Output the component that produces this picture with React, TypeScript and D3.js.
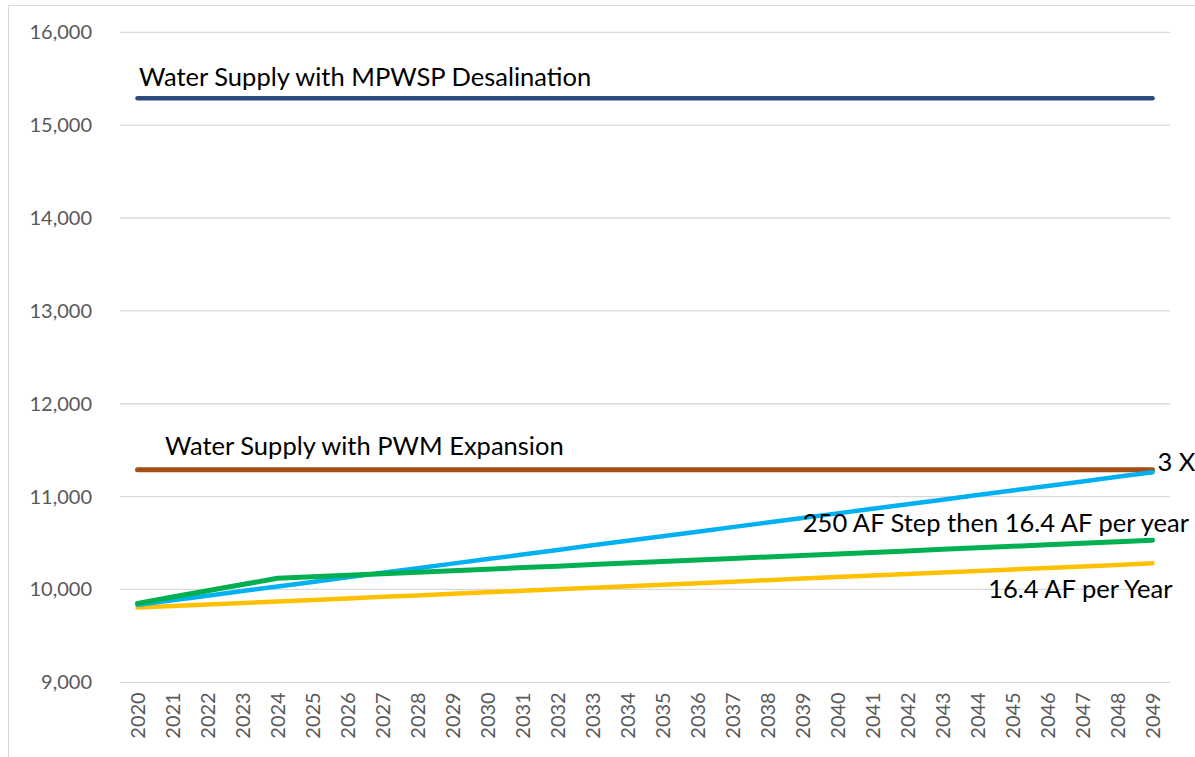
import React, { useEffect, useRef } from 'react';
import * as d3 from 'd3';

const years = [
  '2020', '2021', '2022', '2023', '2024', '2025', '2026', '2027', '2028', '2029',
  '2030', '2031', '2032', '2033', '2034', '2035', '2036', '2037', '2038', '2039',
  '2040', '2041', '2042', '2043', '2044', '2045', '2046', '2047', '2048', '2049',
];

const desalSupply = [
  15290, 15290, 15290, 15290, 15290, 15290, 15290, 15290, 15290, 15290,
  15290, 15290, 15290, 15290, 15290, 15290, 15290, 15290, 15290, 15290,
  15290, 15290, 15290, 15290, 15290, 15290, 15290, 15290, 15290, 15290,
];

const pwmSupply = [
  11290, 11290, 11290, 11290, 11290, 11290, 11290, 11290, 11290, 11290,
  11290, 11290, 11290, 11290, 11290, 11290, 11290, 11290, 11290, 11290,
  11290, 11290, 11290, 11290, 11290, 11290, 11290, 11290, 11290, 11290,
];

const threeX = [
  9835, 9884, 9933, 9983, 10032, 10081, 10130, 10179, 10229, 10278,
  10327, 10376, 10425, 10475, 10524, 10573, 10622, 10671, 10721, 10770,
  10819, 10868, 10917, 10967, 11016, 11065, 11114, 11163, 11213, 11262,
];

const stepThen = [
  9850, 9918, 9985, 10053, 10120, 10136, 10153, 10169, 10186, 10202,
  10218, 10235, 10251, 10268, 10284, 10300, 10317, 10333, 10350, 10366,
  10382, 10399, 10415, 10432, 10448, 10464, 10481, 10497, 10514, 10530,
];

const perYear = [
  9805, 9821, 9838, 9854, 9871, 9887, 9903, 9920, 9936, 9953,
  9969, 9985, 10002, 10018, 10035, 10051, 10067, 10084, 10100, 10117,
  10133, 10149, 10166, 10182, 10199, 10215, 10231, 10248, 10264, 10281,
];

const yTicks = [9000, 10000, 11000, 12000, 13000, 14000, 15000, 16000];

const series = [
  { name: 'Water Supply with MPWSP Desalination', values: desalSupply, color: '#2c4a7c', width: 4.5 },
  { name: 'Water Supply with PWM Expansion', values: pwmSupply, color: '#a24e16', width: 5 },
  { name: '16.4 AF per Year', values: perYear, color: '#ffc000', width: 4.5 },
  { name: '3 X', values: threeX, color: '#00b0f0', width: 4.5 },
  { name: '250 AF Step then 16.4 AF per year', values: stepThen, color: '#00b050', width: 5 },
];

const font = 'Lato, "Noto Sans", sans-serif';

export default function App() {
  const svgRef = useRef<SVGSVGElement>(null);

  useEffect(() => {
    const width = 1195;
    const height = 757;
    const margin = { top: 32.3, right: 25, bottom: 74.7, left: 120 };

    const svg = d3.select(svgRef.current);
    svg.selectAll('*').remove();

    svg.append('rect').attr('width', width).attr('height', height).attr('fill', '#fff');

    // chart border (only top and left show in frame)
    svg.append('path')
      .attr('d', `M8.5,${height + 5} V5.5 H${width + 5}`)
      .attr('fill', 'none')
      .attr('stroke', '#d9d9d9')
      .attr('stroke-width', 1);

    const x = d3.scaleBand()
      .domain(years)
      .range([margin.left, width - margin.right]);

    const y = d3.scaleLinear()
      .domain([9000, 16000])
      .range([height - margin.bottom, margin.top]);

    // gridlines
    svg.append('g')
      .selectAll('line')
      .data(yTicks)
      .join('line')
      .attr('x1', margin.left)
      .attr('x2', width - margin.right)
      .attr('y1', d => y(d))
      .attr('y2', d => y(d))
      .attr('stroke', '#d9d9d9')
      .attr('stroke-width', 1.3);

    // y labels
    svg.append('g')
      .selectAll('text')
      .data(yTicks)
      .join('text')
      .attr('x', 92)
      .attr('y', d => y(d))
      .attr('dy', '0.35em')
      .attr('text-anchor', 'end')
      .attr('font-family', font)
      .attr('font-size', 20)
      .attr('fill', '#595959')
      .text(d => d3.format(',')(d));

    // x labels, rotated
    svg.append('g')
      .selectAll('text')
      .data(years)
      .join('text')
      .attr('transform', d => `translate(${x(d)! + x.bandwidth() / 2},${height - margin.bottom + 10}) rotate(-90)`)
      .attr('dy', '0.35em')
      .attr('text-anchor', 'end')
      .attr('font-family', font)
      .attr('font-size', 20)
      .attr('fill', '#595959')
      .text(d => d);

    const line = d3.line<number>()
      .x((_, i) => x(years[i])! + x.bandwidth() / 2)
      .y(d => y(d));

    svg.append('g')
      .selectAll('path')
      .data(series)
      .join('path')
      .attr('d', d => line(d.values))
      .attr('fill', 'none')
      .attr('stroke', d => d.color)
      .attr('stroke-width', d => d.width)
      .attr('stroke-linecap', 'round')
      .attr('stroke-linejoin', 'round');

    const label = (txt: string, lx: number, ly: number, anchor = 'start') =>
      svg.append('text')
        .attr('x', lx)
        .attr('y', ly)
        .attr('text-anchor', anchor)
        .attr('font-family', font)
        .attr('font-size', 25.5)
        .attr('fill', '#000')
        .text(txt);

    const xFirst = x(years[0])!;
    const xLast = x(years[years.length - 1])! + x.bandwidth() / 2;

    label('Water Supply with MPWSP Desalination', xFirst + 19, y(desalSupply[0]) - 12);
    label('Water Supply with PWM Expansion', xFirst + 45, y(pwmSupply[0]) - 15);
    label('3 X', xLast + 5, y(threeX[threeX.length - 1]) - 1);
    label('250 AF Step then 16.4 AF per year', width - 6, y(stepThen[stepThen.length - 1]) - 8, 'end');
    label('16.4 AF per Year', xLast + 20, y(perYear[perYear.length - 1]) + 35, 'end');
  }, []);

  return (
    <svg
      ref={svgRef}
      width={1195}
      height={757}
      style={{ position: 'absolute', left: 0, top: 0, display: 'block' }}
    />
  );
}
